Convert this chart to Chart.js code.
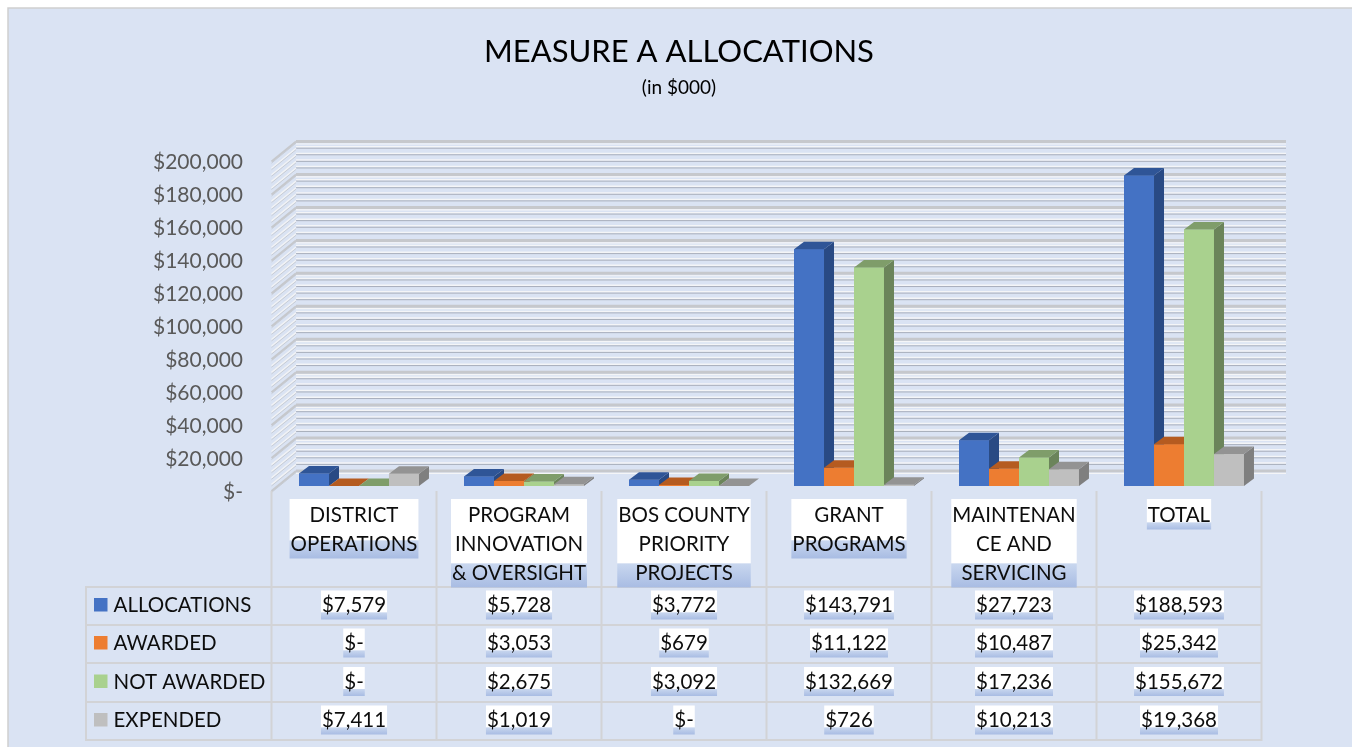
<!DOCTYPE html>
<html>
<head>
<meta charset="utf-8">
<script src="https://cdn.jsdelivr.net/npm/chart.js@4.4.1/dist/chart.umd.min.js"></script>
<style>
  html, body { margin: 0; padding: 0; background: #ffffff; }
  #wrap { width: 1352px; height: 747px; position: relative; }
</style>
</head>
<body>
<div id="wrap"><canvas id="c"></canvas></div>
<script>
// ---------- DATA ----------
const categories = [
  ["DISTRICT", "OPERATIONS"],
  ["PROGRAM", "INNOVATION", "& OVERSIGHT"],
  ["BOS COUNTY", "PRIORITY", "PROJECTS"],
  ["GRANT", "PROGRAMS"],
  ["MAINTENAN", "CE AND", "SERVICING"],
  ["TOTAL"]
];
const seriesNames = ["ALLOCATIONS", "AWARDED", "NOT AWARDED", "EXPENDED"];
const allocations = [7579, 5728, 3772, 143791, 27723, 188593];
const awarded     = [0, 3053, 679, 11122, 10487, 25342];
const notAwarded  = [0, 2675, 3092, 132669, 17236, 155672];
const expended    = [7411, 1019, 0, 726, 10213, 19368];
const yMin = 0, yMax = 200000, yStep = 20000, yMinorStep = 4000;
const titleText = "MEASURE A ALLOCATIONS";
const subtitleText = "(in $000)";

// ---------- STYLE ----------
const FONT = "Lato, 'Open Sans', 'DejaVu Sans', sans-serif";
const faces = [
  { front: '#4472C4', top: '#2F5597', side: '#294A84' },
  { front: '#ED7D31', top: '#B55B20', side: '#A5521C' },
  { front: '#A9D18E', top: '#7F9D6A', side: '#6B845A' },
  { front: '#BFBFBF', top: '#939393', side: '#7F7F7F' }
];
const FRONT = { dx: -5, dy: 5 };     // front edge of the 3D box relative to bar plane
const BACK = { dx: 19.5, dy: -15 };  // back wall relative to bar plane
const BAR3D = { dx: 10, dy: -7.5 };  // bar depth
const BG = '#DAE3F3';
const TABLE = { left: 86, headTop: 491, rows: [587, 625, 663, 702, 740], lineColor: '#D2D3D6' };

function money(v) { return v === 0 ? '$-' : '$' + v.toLocaleString('en-US'); }

function poly(ctx, pts, color) {
  ctx.beginPath();
  ctx.moveTo(pts[0][0], pts[0][1]);
  for (let i = 1; i < pts.length; i++) ctx.lineTo(pts[i][0], pts[i][1]);
  ctx.closePath();
  ctx.fillStyle = color;
  ctx.fill();
}

function highlight(ctx, cx, w, whiteTop, bandTop, bandBottom) {
  const x = cx - w / 2 - 1, ww = w + 2;
  ctx.fillStyle = '#FFFFFF';
  ctx.fillRect(x, whiteTop, ww, bandTop - whiteTop);
  const g = ctx.createLinearGradient(0, bandTop, 0, bandBottom);
  g.addColorStop(0, '#C9D7EF');
  g.addColorStop(1, '#A8BCE3');
  ctx.fillStyle = g;
  ctx.fillRect(x, bandTop, ww, bandBottom - bandTop);
}

const bgPlugin = {
  id: 'bg',
  beforeDraw(chart) {
    const ctx = chart.ctx;
    ctx.save();
    ctx.fillStyle = '#FFFFFF';
    ctx.fillRect(0, 0, chart.width, chart.height);
    ctx.fillStyle = BG;
    ctx.fillRect(8, 8, chart.width - 8, chart.height - 8);
    ctx.strokeStyle = '#CFCFCF';
    ctx.lineWidth = 1.5;
    ctx.beginPath();
    ctx.moveTo(8, chart.height); ctx.lineTo(8, 8); ctx.lineTo(chart.width, 8);
    ctx.stroke();
    ctx.restore();
  }
};

const wallPlugin = {
  id: 'walls',
  beforeDatasetsDraw(chart) {
    const ctx = chart.ctx, ys = chart.scales.y, a = chart.chartArea;
    ctx.save();
    const xb0 = a.left + BACK.dx, xb1 = a.right + BACK.dx;
    const xf = a.left + FRONT.dx;
    for (let v = yMin; v <= yMax; v += yMinorStep) {
      const y = ys.getPixelForValue(v);
      const yb = y + BACK.dy, yf = y + FRONT.dy;
      const major = (v % yStep) === 0;
      if (major) {
        ctx.strokeStyle = '#C6C8CC'; ctx.lineWidth = 3;
        ctx.beginPath(); ctx.moveTo(xb0, yb); ctx.lineTo(xb1, yb); ctx.stroke();
        ctx.strokeStyle = '#F4F5F7'; ctx.lineWidth = 1.2;
        ctx.beginPath(); ctx.moveTo(xb0, yb + 2.4); ctx.lineTo(xb1, yb + 2.4); ctx.stroke();
      } else {
        ctx.strokeStyle = '#F4F5F7'; ctx.lineWidth = 1.5;
        ctx.beginPath(); ctx.moveTo(xb0, yb - 1.4); ctx.lineTo(xb1, yb - 1.4); ctx.stroke();
        ctx.strokeStyle = '#A9AFBC'; ctx.lineWidth = 1;
        ctx.beginPath(); ctx.moveTo(xb0, yb); ctx.lineTo(xb1, yb); ctx.stroke();
      }
      ctx.strokeStyle = major ? '#C6C8CC' : '#F2F3F5';
      ctx.lineWidth = major ? 2 : 1.4;
      ctx.beginPath(); ctx.moveTo(xf, yf); ctx.lineTo(xb0, yb); ctx.stroke();
      ctx.strokeStyle = '#C3C6CD'; ctx.lineWidth = 0.8;
      ctx.beginPath(); ctx.moveTo(xf, yf + 1.5); ctx.lineTo(xb0, yb + 1.5); ctx.stroke();
    }
    ctx.restore();
  }
};

const bar3dPlugin = {
  id: 'bar3d',
  afterDatasetsDraw(chart) {
    const ctx = chart.ctx;
    const n = chart.data.labels.length;
    ctx.save();
    for (let c = 0; c < n; c++) {
      for (let d = 0; d < chart.data.datasets.length; d++) {
        const el = chart.getDatasetMeta(d).data[c];
        const p = el.getProps(['x', 'y', 'base', 'width'], true);
        const l = p.x - p.width / 2, r = p.x + p.width / 2;
        const top = Math.min(p.y, p.base), base = Math.max(p.y, p.base);
        const f = faces[d];
        ctx.fillStyle = f.front;
        ctx.fillRect(l, top, r - l, base - top);
        poly(ctx, [[r, top], [r + BAR3D.dx, top + BAR3D.dy], [r + BAR3D.dx, base + BAR3D.dy], [r, base]], f.side);
        poly(ctx, [[l, top], [r, top], [r + BAR3D.dx, top + BAR3D.dy], [l + BAR3D.dx, top + BAR3D.dy]], f.top);
      }
    }
    ctx.restore();
  }
};

const tablePlugin = {
  id: 'table',
  afterDraw(chart) {
    const ctx = chart.ctx, xs = chart.scales.x;
    const n = chart.data.labels.length;
    const catW = (xs.right - xs.left) / n;
    const bounds = [];
    for (let i = 0; i < n; i++) bounds.push(xs.getPixelForValue(i) - catW / 2 + FRONT.dx);
    bounds.push(xs.getPixelForValue(n - 1) + catW / 2 + FRONT.dx);
    const R = TABLE.rows;
    ctx.save();
    ctx.strokeStyle = TABLE.lineColor; ctx.lineWidth = 2;
    ctx.beginPath();
    for (const b of bounds) { ctx.moveTo(b, TABLE.headTop); ctx.lineTo(b, R[R.length - 1]); }
    ctx.moveTo(TABLE.left, R[0]); ctx.lineTo(TABLE.left, R[R.length - 1]);
    for (const y of R) { ctx.moveTo(TABLE.left - 1, y); ctx.lineTo(bounds[n] + 1, y); }
    ctx.stroke();

    ctx.font = `20.5px ${FONT}`;
    ctx.textBaseline = 'middle';
    const lh = 29, firstC = 514.5;
    for (let i = 0; i < n; i++) {
      const lines = chart.data.labels[i];
      const cx = (bounds[i] + bounds[i + 1]) / 2;
      let w = 0;
      for (const s of lines) w = Math.max(w, ctx.measureText(s).width);
      const k = lines.length;
      const lastC = firstC + (k - 1) * lh;
      const bandTop = k === 1 ? lastC + 8 : (k === 2 ? lastC - 3 : lastC - 9);
      highlight(ctx, cx, w, firstC - 15.5, bandTop, lastC + 15);
      ctx.fillStyle = '#0D0D0D'; ctx.textAlign = 'center';
      lines.forEach((s, j) => ctx.fillText(s, cx, firstC + j * lh + 1));
    }
    chart.data.datasets.forEach((ds, d) => {
      const mid = (R[d] + R[d + 1]) / 2 - 1.5;
      ctx.fillStyle = faces[d].front;
      ctx.fillRect(94, mid - 6.5, 13.5, 13.5);
      ctx.fillStyle = '#0D0D0D'; ctx.textAlign = 'left';
      ctx.fillText(ds.label, 113.5, mid + 1);
      ds.data.forEach((v, i) => {
        const cx = (bounds[i] + bounds[i + 1]) / 2;
        const s = money(v);
        const w = ctx.measureText(s).width;
        highlight(ctx, cx, w, mid - 14, mid + 8, mid + 15);
        ctx.fillStyle = '#0D0D0D'; ctx.textAlign = 'center';
        ctx.fillText(s, cx, mid + 1);
      });
    });
    ctx.restore();
  }
};

const seriesData = [allocations, awarded, notAwarded, expended];

new Chart(document.getElementById('c'), {
  type: 'bar',
  data: {
    labels: categories,
    datasets: seriesNames.map((name, i) => ({
      label: name,
      data: seriesData[i],
      backgroundColor: faces[i].front,
      borderWidth: 0,
      barPercentage: 1.0,
      categoryPercentage: 0.727
    }))
  },
  options: {
    responsive: true,
    maintainAspectRatio: false,
    animation: false,
    layout: { padding: { top: 8, left: 6, right: 0, bottom: 261 } },
    plugins: {
      legend: { display: false },
      tooltip: { enabled: false },
      title: {
        display: true, text: titleText, color: '#000000',
        font: { family: FONT, size: 31, weight: 'normal' },
        padding: { top: 25, bottom: 0 }
      },
      subtitle: {
        display: true, text: subtitleText, color: '#000000',
        font: { family: FONT, size: 19, weight: 'normal' },
        padding: { top: 6, bottom: 57.6 }
      }
    },
    scales: {
      x: { display: false },
      y: {
        min: yMin, max: yMax,
        grid: { display: false, drawTicks: false },
        border: { display: false },
        ticks: {
          stepSize: yStep,
          color: '#595959',
          font: { family: FONT, size: 21 },
          padding: 33.5,
          labelOffset: 6,
          callback: (v) => money(v)
        },
        afterFit: (s) => { s.width = 270.5; }
      },
      yRight: {
        type: 'linear',
        position: 'right',
        display: true,
        grid: { display: false, drawTicks: false },
        border: { display: false },
        ticks: { display: false },
        afterFit: (s) => { s.width = 85.5; }
      }
    }
  },
  plugins: [bgPlugin, wallPlugin, bar3dPlugin, tablePlugin]
});
</script>
</body>
</html>
